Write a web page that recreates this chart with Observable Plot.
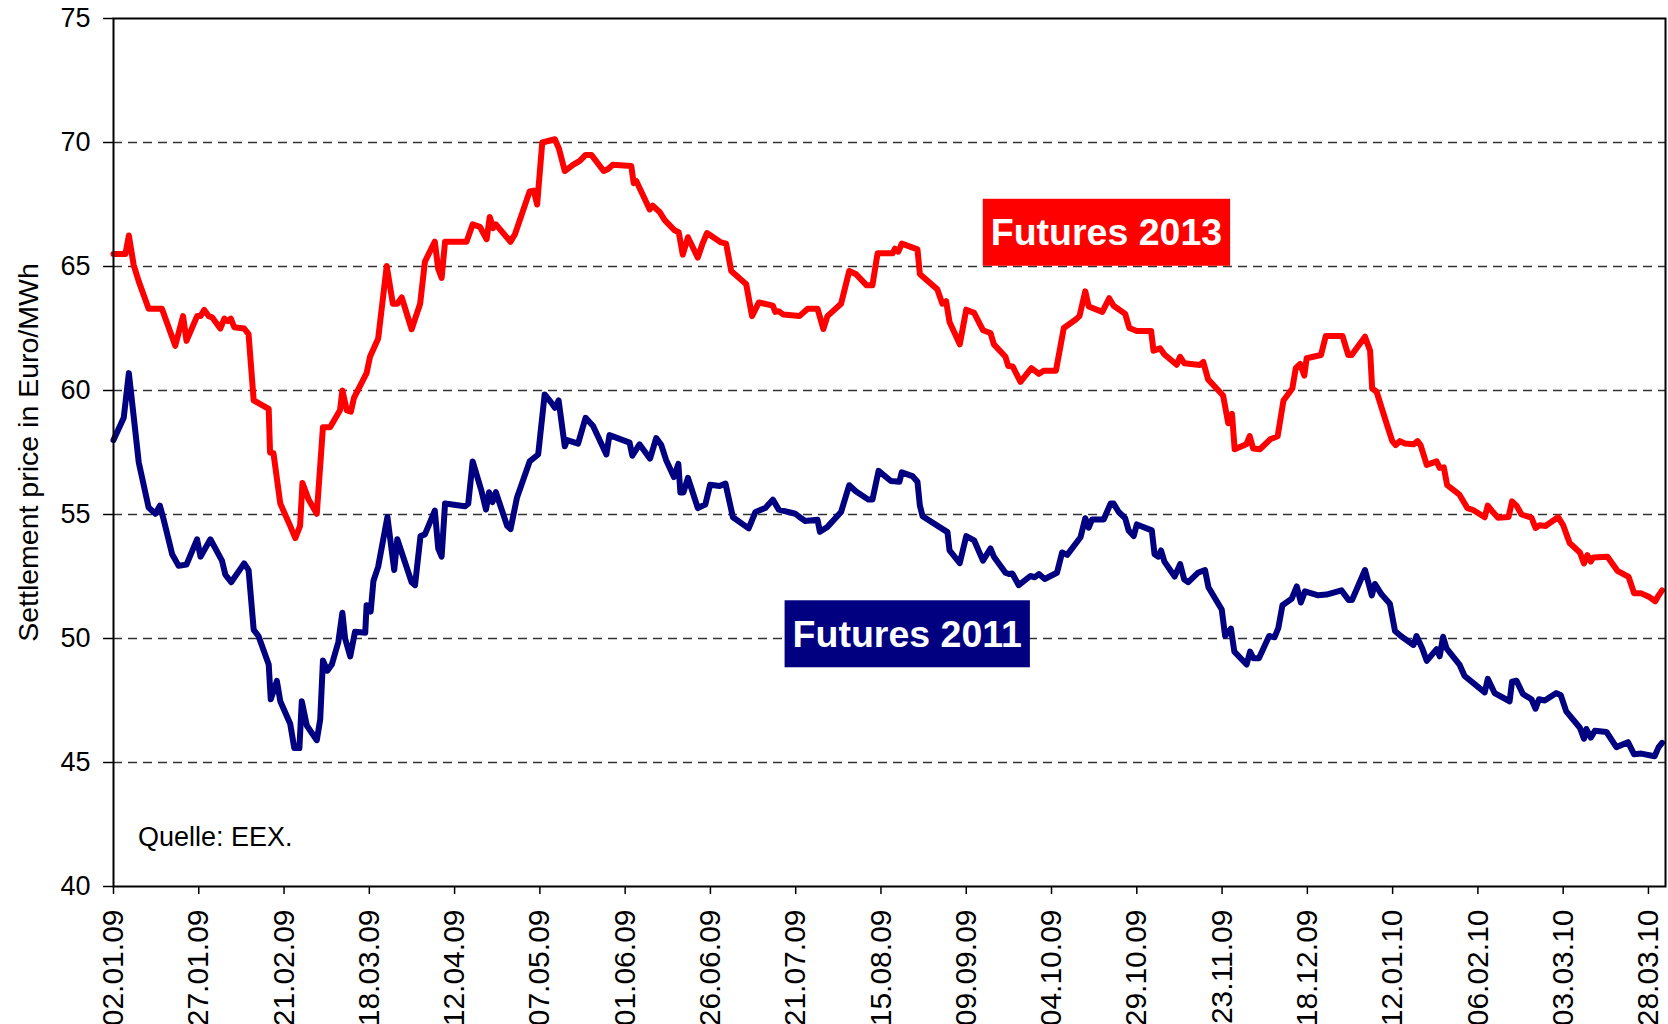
<!DOCTYPE html>
<html>
<head>
<meta charset="utf-8">
<script src="https://cdn.jsdelivr.net/npm/d3@7"></script>
<script src="https://cdn.jsdelivr.net/npm/@observablehq/plot@0.6"></script>
<style>
html, body { margin: 0; padding: 0; background: #fff; }
#chart svg { display: block; }
</style>
</head>
<body>
<div id="chart"></div>
<script>
// ---- data (days after 02.01.09, settlement price in Euro/MWh) ----
const startLabel = "02.01.09";
const endDay = 455;
const tickLabels = ["02.01.09","27.01.09","21.02.09","18.03.09","12.04.09","07.05.09","01.06.09","26.06.09","21.07.09","15.08.09","09.09.09","04.10.09","29.10.09","23.11.09","18.12.09","12.01.10","06.02.10","03.03.10","28.03.10"];
const yTicks = [40, 45, 50, 55, 60, 65, 70, 75];
const gridValues = [45, 50, 55, 60, 65, 70];

const futures2013 = [[0,65.5],[3.5,65.5],[4.5,66.25],[5.9,65.07],[7.4,64.4],[10.3,63.3],[14.2,63.3],[18.1,61.8],[20.4,63.0],[21.4,62.0],[24.5,63.0],[25.5,63.0],[26.6,63.25],[27.9,63.0],[28.9,62.95],[31.3,62.5],[32.5,62.9],[33.5,62.8],[34.4,62.9],[35.4,62.55],[38.3,62.5],[39.6,62.27],[41.1,59.6],[45.5,59.26],[45.9,57.5],[46.9,57.47],[48.9,55.44],[51.8,54.54],[53.3,54.05],[54.7,54.54],[55.4,56.27],[57.2,55.6],[59.6,55.03],[61.4,58.52],[63.5,58.52],[66.4,59.2],[67.1,60.0],[68.4,59.2],[69.6,59.15],[70.5,59.7],[74.2,60.7],[75.2,61.36],[77.6,62.1],[80.1,65.02],[81.9,63.5],[83.2,63.5],[84.5,63.75],[87.4,62.47],[89.9,63.5],[91.3,65.2],[94.2,66.0],[95.2,64.9],[96.2,64.54],[97.2,66.0],[103.5,66.0],[105.3,66.7],[107.4,66.6],[109.4,66.1],[110.3,67.0],[111.3,66.55],[112.1,66.7],[116.4,66.0],[117.7,66.3],[122.0,68.03],[123.2,68.06],[124.2,67.5],[125.7,70.0],[129.4,70.13],[130.6,69.75],[132.3,68.85],[134.7,69.1],[136.7,69.26],[138.4,69.5],[140.1,69.5],[143.7,68.85],[145.0,68.93],[146.4,69.1],[151.8,69.05],[152.5,68.36],[153.3,68.44],[157.2,67.3],[158.1,67.45],[160.1,67.2],[161.6,66.87],[164.5,66.46],[165.7,66.38],[166.9,65.48],[168.4,66.18],[171.3,65.36],[172.6,65.89],[174.0,66.35],[178.1,65.97],[179.6,65.92],[181.1,64.82],[185.5,64.28],[187.2,63.0],[189.2,63.55],[193.3,63.42],[194.0,63.17],[195.0,63.2],[196.4,63.06],[201.1,63.0],[203.5,63.3],[206.4,63.3],[208.1,62.48],[209.3,63.0],[213.3,63.5],[215.7,64.82],[217.6,64.7],[220.8,64.24],[222.5,64.24],[224.0,65.53],[228.4,65.53],[229.1,65.72],[230.1,65.6],[231.1,65.92],[235.7,65.69],[236.4,64.7],[237.2,64.6],[241.5,64.08],[243.0,63.5],[244.1,63.6],[245.1,62.76],[248.1,61.86],[250.0,63.26],[252.3,63.13],[254.9,62.43],[257.1,62.32],[258.1,61.86],[261.5,61.36],[262.3,60.99],[263.6,60.97],[265.9,60.35],[269.1,60.9],[271.3,60.67],[272.7,60.8],[276.3,60.8],[278.6,62.52],[282.0,62.85],[283.2,63.0],[284.9,64.0],[285.9,63.39],[289.9,63.17],[291.9,63.72],[293.2,63.42],[296.6,63.09],[297.8,62.52],[300.0,62.4],[304.2,62.4],[304.9,61.6],[306.8,61.7],[308.1,61.45],[311.7,61.04],[312.7,61.36],[313.9,61.1],[318.5,61.03],[319.5,61.15],[320.9,60.45],[325.3,59.8],[326.8,58.68],[327.9,59.06],[328.7,57.63],[332.1,57.83],[333.1,58.16],[334.1,57.66],[336.1,57.63],[339.1,58.03],[341.3,58.16],[343.0,59.6],[345.6,60.08],[346.6,60.9],[347.9,61.07],[349.1,60.6],[349.8,61.3],[354.0,61.43],[355.4,62.2],[360.3,62.2],[362.0,61.43],[363.0,61.43],[366.9,62.17],[368.4,61.6],[369.0,60.08],[370.3,59.95],[373.2,58.68],[374.9,57.96],[375.9,57.8],[377.1,57.96],[378.6,57.86],[381.1,57.83],[382.3,57.96],[383.2,57.8],[385.0,57.0],[387.9,57.14],[388.8,56.88],[390.0,56.9],[391.0,56.18],[394.6,55.8],[396.9,55.26],[398.6,55.18],[402.0,54.89],[402.9,55.36],[404.4,55.1],[405.9,54.87],[409.0,54.9],[410.0,55.53],[411.3,55.36],[412.8,55.0],[415.7,54.87],[416.9,54.46],[418.1,54.57],[419.8,54.54],[423.5,54.89],[425.0,54.57],[426.9,53.85],[429.9,53.47],[431.1,53.03],[432.1,53.36],[433.1,53.1],[433.8,53.27],[438.0,53.3],[440.9,52.73],[444.2,52.48],[445.8,51.82],[447.9,51.82],[450.4,51.66],[452.0,51.5],[453.0,51.74],[454.0,51.94]];

const futures2011 = [[0,58.0],[3.0,58.9],[4.5,60.7],[5.9,58.98],[7.4,57.1],[10.3,55.28],[12.3,55.03],[13.6,55.36],[14.7,54.8],[17.2,53.4],[19.1,52.93],[21.4,52.98],[24.5,54.0],[25.5,53.3],[28.4,54.0],[31.8,53.14],[32.8,52.57],[34.5,52.27],[38.3,53.03],[39.6,52.76],[41.1,50.35],[42.5,50.1],[45.5,48.95],[46.1,47.55],[47.9,48.29],[48.9,47.47],[51.8,46.56],[53.0,45.58],[54.5,45.58],[55.2,47.47],[56.7,46.48],[59.6,45.9],[60.6,46.73],[61.4,49.11],[62.7,48.7],[64.0,48.95],[65.9,49.85],[67.1,51.04],[67.9,50.0],[69.4,49.28],[70.8,50.27],[73.8,50.23],[74.2,51.34],[75.4,51.09],[76.2,52.32],[77.6,52.9],[80.3,54.9],[82.3,52.76],[83.2,54.0],[87.4,52.27],[88.4,52.15],[90.0,54.13],[91.3,54.2],[94.2,55.16],[95.2,53.63],[96.2,53.3],[97.2,55.44],[103.0,55.33],[104.0,55.44],[105.3,57.14],[107.9,55.94],[109.2,55.2],[110.1,55.9],[111.1,55.5],[112.1,55.9],[115.4,54.54],[116.4,54.41],[118.3,55.69],[122.0,57.14],[124.5,57.42],[126.4,59.84],[128.4,59.5],[129.4,59.3],[130.5,59.6],[132.3,57.75],[133.0,58.0],[136.2,57.86],[138.4,58.9],[140.6,58.57],[144.5,57.42],[145.4,58.2],[151.3,57.9],[152.1,57.37],[154.2,57.83],[157.3,57.25],[159.1,58.08],[160.6,57.8],[162.0,57.2],[164.3,56.51],[165.6,57.04],[166.2,55.89],[167.1,55.89],[168.4,56.48],[171.3,55.26],[173.5,55.4],[174.9,56.2],[177.7,56.15],[179.4,56.25],[181.6,54.89],[186.2,54.44],[188.2,55.1],[191.1,55.26],[193.3,55.6],[195.0,55.2],[199.9,55.03],[201.1,54.9],[202.8,54.74],[206.4,54.79],[207.1,54.3],[209.3,54.5],[213.3,55.1],[215.7,56.18],[217.6,55.94],[221.3,55.6],[222.5,55.6],[224.3,56.76],[227.9,56.35],[230.4,56.32],[231.1,56.7],[234.2,56.55],[235.7,56.32],[236.4,55.36],[237.2,54.93],[244.5,54.29],[245.1,53.55],[248.1,53.04],[250.0,54.13],[252.3,53.96],[254.9,53.14],[257.1,53.63],[258.1,53.3],[261.5,52.65],[262.5,52.6],[263.5,52.62],[265.4,52.15],[268.8,52.52],[270.1,52.47],[271.3,52.6],[273.0,52.4],[276.6,52.65],[278.1,53.47],[279.6,53.37],[283.5,54.08],[284.9,54.85],[285.9,54.47],[286.9,54.8],[290.3,54.8],[292.3,55.44],[293.2,55.44],[294.7,55.1],[296.6,54.85],[297.6,54.36],[299.1,54.13],[300.0,54.6],[304.4,54.36],[305.2,53.4],[306.3,53.3],[307.1,53.55],[308.1,53.1],[311.1,52.5],[312.7,53.0],[313.9,52.38],[315.1,52.27],[317.9,52.65],[320.0,52.76],[321.0,52.07],[324.9,51.17],[325.9,50.1],[327.6,50.4],[328.6,49.47],[332.2,48.95],[333.2,49.47],[334.2,49.2],[335.8,49.2],[338.8,50.1],[340.4,50.05],[341.5,50.43],[342.7,51.34],[345.4,51.6],[346.9,52.1],[348.1,51.45],[349.3,51.9],[353.2,51.74],[355.6,51.77],[360.0,51.94],[362.1,51.55],[363.1,51.55],[366.9,52.76],[368.9,51.74],[369.8,52.2],[371.8,51.77],[374.2,51.4],[375.7,50.3],[377.4,50.1],[381.1,49.74],[382.0,50.1],[383.7,49.6],[385.0,49.1],[387.9,49.57],[388.8,49.28],[389.8,50.07],[390.8,49.6],[394.6,48.95],[396.1,48.49],[397.6,48.32],[402.0,47.83],[402.9,48.37],[404.9,47.8],[409.3,47.47],[410.0,48.26],[411.3,48.3],[413.2,47.76],[415.7,47.55],[416.9,47.17],[417.9,47.55],[419.6,47.5],[423.0,47.8],[424.3,47.71],[425.9,47.06],[429.9,46.4],[431.1,45.96],[431.8,46.35],[433.1,46.0],[434.3,46.28],[437.7,46.23],[440.6,45.62],[444.0,45.82],[445.8,45.33],[447.9,45.36],[451.8,45.25],[453.0,45.62],[454.0,45.79]];

const seriesNames = ["Futures 2013", "Futures 2011"];
const seriesColors = ["#ff0000", "#000080"];
const labelDays = [291.1, 232.7];
const labelValues = [66.34, 50.15];
const yTitle = "Settlement price in Euro/MWh";
const sourceNote = "Quelle: EEX.";

// ---- build tables ----
const parseDay = d3.utcParse("%d.%m.%y");
const t0 = parseDay(startLabel);
const dayToDate = (d) => new Date(+t0 + d * 864e5);
const toRows = (pairs) => pairs.map(([d, v]) => ({date: dayToDate(d), value: v}));
const rows2013 = toRows(futures2013);
const rows2011 = toRows(futures2011);
const tickDates = tickLabels.map(parseDay);
const labels = seriesNames.map((name, i) => ({name, date: dayToDate(labelDays[i]), value: labelValues[i], color: seriesColors[i]}));

const font = "'Liberation Sans', Arial, Helvetica, sans-serif";

const chart = Plot.plot({
  width: 1668,
  height: 1024,
  marginLeft: 113,
  marginRight: 3,
  marginTop: 18,
  marginBottom: 138,
  style: {fontFamily: font, color: "#000", background: "#fff", overflow: "visible"},
  x: {type: "utc", domain: [t0, dayToDate(endDay)]},
  y: {domain: [40, 75]},
  marks: [
    Plot.ruleY(gridValues, {stroke: "#333", strokeWidth: 1.3, strokeDasharray: "9,6"}),
    Plot.axisX(tickDates, {tickFormat: d3.utcFormat("%d.%m.%y"), tickRotate: -90, tickSize: 8, tickPadding: 15, fontSize: 30, label: null, stroke: "#000", strokeWidth: 1.5}),
    Plot.axisY(yTicks, {tickSize: 10, tickPadding: 13, fontSize: 27, label: null, stroke: "#000", strokeWidth: 1.5}),
    Plot.line(rows2013, {x: "date", y: "value", stroke: seriesColors[0], strokeWidth: 6, strokeLinejoin: "round"}),
    Plot.line(rows2011, {x: "date", y: "value", stroke: seriesColors[1], strokeWidth: 6, strokeLinejoin: "round"}),
    Plot.frame({stroke: "#000", strokeWidth: 2}),
    Plot.text(labels, {x: "date", y: "value", text: "name", fill: "#fff", fontWeight: "bold", fontSize: 37.5, fontFamily: font}),
    Plot.text([yTitle], {frameAnchor: "left", rotate: -90, lineAnchor: "top", textAnchor: "middle", dx: -95.5, fontSize: 28.5, fill: "#000"}),
    Plot.text([sourceNote], {frameAnchor: "bottom-left", textAnchor: "start", lineAnchor: "bottom", dx: 24.5, dy: -40.5, fontSize: 27, fill: "#000"})
  ]
});

document.getElementById("chart").append(chart);

// coloured boxes behind the series labels
chart.querySelectorAll("text").forEach((t) => {
  const idx = seriesNames.indexOf(t.textContent);
  if (idx < 0) return;
  const b = t.getBBox();
  const padX = 8, padY = 12.5;
  const r = document.createElementNS("http://www.w3.org/2000/svg", "rect");
  r.setAttribute("x", b.x - padX);
  r.setAttribute("y", b.y - padY);
  r.setAttribute("width", b.width + 2 * padX);
  r.setAttribute("height", b.height + 2 * padY);
  r.setAttribute("fill", seriesColors[idx]);
  r.setAttribute("stroke", "none");
  const tr = t.getAttribute("transform");
  if (tr) r.setAttribute("transform", tr);
  t.parentNode.insertBefore(r, t);
});
</script>
</body>
</html>
